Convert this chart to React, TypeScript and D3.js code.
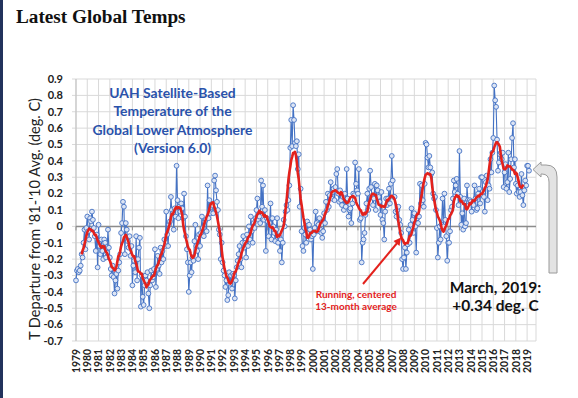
import React from 'react';
import * as d3 from 'd3';

// UAH v6.0 global lower troposphere, monthly anomaly (deg C vs 1981-2010)
const temps1979to1988 = [
  -0.33, -0.27, -0.26, -0.28, -0.27, -0.24, -0.17, -0.19, -0.10, -0.02, -0.14, -0.01,
  0.06, -0.03, -0.08, 0.05, 0.03, 0.09, 0.04, -0.01, -0.06, -0.15, -0.05, -0.25,
  0.01, -0.12, -0.17, -0.08, -0.15, -0.20, -0.08, -0.10, -0.19, -0.16, -0.02, -0.13,
  -0.19, -0.26, -0.30, -0.24, -0.31, -0.41, -0.33, -0.29, -0.38, -0.27, -0.22, -0.17,
  -0.04, 0.02, 0.15, 0.12, -0.17, 0.02, -0.02, -0.09, -0.13, -0.06, -0.18, -0.12,
  -0.36, -0.24, -0.21, -0.28, -0.06, -0.33, -0.20, -0.13, -0.07, -0.49, -0.30, -0.43,
  -0.48, -0.36, -0.30, -0.33, -0.28, -0.41, -0.50, -0.36, -0.27, -0.33, -0.31, -0.26,
  -0.14, -0.37, -0.26, -0.18, -0.24, -0.29, -0.13, -0.22, -0.15, -0.20, -0.08, -0.12,
  0.09, -0.05, -0.12, 0.01, 0.03, 0.18, 0.10, 0.08, -0.02, 0.11, 0.06, 0.37,
  0.16, 0.05, 0.12, 0.09, 0.14, 0.11, 0.05, 0.20, 0.06, -0.06, -0.14, -0.22,
];
const temps1989to1998 = [
  -0.40, -0.30, -0.22, -0.28, -0.19, -0.21, -0.09, 0.01, -0.12, -0.15, -0.20, -0.05,
  -0.12, -0.04, 0.06, -0.01, -0.06, 0.03, 0.04, -0.03, 0.25, 0.05, 0.16, 0.08,
  0.12, 0.13, 0.08, 0.28, 0.31, 0.22, 0.15, 0.10, -0.02, -0.05, -0.20, -0.10,
  -0.22, -0.27, -0.30, -0.37, -0.33, -0.45, -0.42, -0.28, -0.35, -0.30, -0.38, -0.29,
  -0.30, -0.44, -0.33, -0.25, -0.21, -0.17, -0.12, -0.20, -0.25, -0.10, -0.06, -0.13,
  -0.10, -0.19, -0.05, -0.12, 0.00, -0.08, 0.06, -0.03, -0.10, 0.02, -0.01, 0.05,
  0.10, 0.17, 0.04, 0.06, 0.02, 0.28, 0.12, 0.25, 0.04, 0.10, -0.15, 0.05,
  0.03, -0.06, 0.02, 0.14, -0.08, 0.05, 0.00, -0.04, -0.09, -0.02, 0.05, -0.10,
  -0.06, -0.15, -0.08, -0.22, -0.10, 0.04, 0.00, 0.09, 0.13, 0.10, 0.16, 0.25,
  0.48, 0.65, 0.49, 0.74, 0.65, 0.51, 0.49, 0.52, 0.35, 0.44, 0.12, 0.23,
];
const temps1999to2008 = [
  -0.03, -0.12, -0.15, -0.01, -0.05, -0.10, 0.03, -0.04, 0.01, -0.02, -0.08, -0.06,
  -0.26, -0.05, -0.01, 0.09, 0.02, -0.03, 0.01, 0.05, -0.02, -0.04, -0.07, -0.03,
  0.08, 0.02, 0.15, 0.10, 0.20, 0.12, 0.19, 0.27, 0.17, 0.21, 0.23, 0.16,
  0.24, 0.32, 0.35, 0.20, 0.15, 0.22, 0.16, 0.13, 0.18, 0.10, 0.20, 0.12,
  0.35, 0.17, 0.06, 0.10, 0.11, 0.02, 0.14, 0.20, 0.19, 0.39, 0.26, 0.22,
  0.20, 0.35, 0.04, 0.05, -0.22, -0.10, -0.08, -0.04, 0.07, 0.14, 0.20, 0.10,
  0.23, 0.34, 0.24, 0.18, 0.13, 0.17, 0.26, 0.10, 0.25, 0.22, 0.18, 0.15,
  0.07, 0.21, 0.04, 0.02, -0.08, 0.09, 0.17, 0.13, 0.17, 0.23, 0.14, 0.26,
  0.43, 0.28, 0.18, 0.18, 0.09, 0.06, 0.10, 0.12, 0.04, 0.01, -0.04, -0.20,
  -0.26, -0.19, -0.13, -0.26, -0.16, -0.11, -0.02, -0.10, 0.01, 0.11, 0.04, -0.04,
];
const temps2009to2019 = [
  0.08, 0.00, -0.16, 0.05, 0.02, 0.06, 0.26, 0.14, 0.25, 0.16, 0.12, 0.26,
  0.51, 0.50, 0.42, 0.36, 0.43, 0.36, 0.32, 0.33, 0.20, 0.17, 0.18, 0.10,
  -0.01, -0.19, -0.10, 0.00, -0.08, 0.01, 0.17, 0.00, 0.20, 0.04, -0.06, -0.21,
  -0.10, -0.10, -0.03, 0.10, 0.12, 0.17, 0.28, 0.21, 0.25, 0.29, 0.20, 0.13,
  0.46, 0.18, 0.01, 0.08, -0.02, 0.17, 0.00, 0.02, 0.25, 0.16, 0.15, 0.16,
  0.15, 0.09, 0.14, 0.13, 0.25, 0.17, 0.10, 0.11, 0.20, 0.23, 0.14, 0.30,
  0.30, 0.19, 0.18, 0.09, 0.27, 0.31, 0.16, 0.25, 0.23, 0.41, 0.33, 0.45,
  0.54, 0.86, 0.77, 0.73, 0.53, 0.34, 0.39, 0.44, 0.45, 0.41, 0.45, 0.24,
  0.33, 0.38, 0.23, 0.27, 0.45, 0.21, 0.29, 0.41, 0.54, 0.63, 0.36, 0.41,
  0.26, 0.20, 0.25, 0.21, 0.18, 0.21, 0.32, 0.19, 0.13, 0.22, 0.28, 0.25,
  0.37, 0.37, 0.34,
];

const yearLabels = d3.range(1979, 2020).map(String);
const yTicks = [0.9, 0.8, 0.7, 0.6, 0.5, 0.4, 0.3, 0.2, 0.1, 0, -0.1, -0.2, -0.3, -0.4, -0.5, -0.6, -0.7];
const chartTitle = ['UAH Satellite-Based', 'Temperature of the', 'Global Lower Atmosphere', '(Version 6.0)'];
const latestNote = ['March, 2019:', '+0.34 deg. C'];
const avgNote = ['Running, centered', '13-month average'];

const monthly = [...temps1979to1988, ...temps1989to1998, ...temps1999to2008, ...temps2009to2019];

// centered 13-month running mean, as in the original chart
const running = monthly.map((v, i) =>
  i < 6 || i > monthly.length - 7 ? null : d3.mean(monthly.slice(i - 6, i + 7))
);

const BLUE = '#4472c4';
const RED = '#e3211c';
const GRID = '#d9d9d9';

const App = () => {
  const left = 76;
  const right = 536;
  const top = 79;
  const bottom = 341;

  const x = d3.scaleLinear().domain([0, monthly.length - 1]).range([left, 529]);
  const y = d3.scaleLinear().domain([-0.7, 0.9]).range([bottom, top]);

  const line = d3
    .line<number>()
    .x((d, i) => x(i))
    .y((d) => y(d));

  const avgLine = d3
    .line<number | null | undefined>()
    .defined((d) => d != null)
    .x((d, i) => x(i))
    .y((d) => y(d as number));

  const yearX = (i: number) => x(i * 12);

  return (
    <svg
      width={578}
      height={398}
      style={{ position: 'absolute', left: 0, top: 0, background: '#fff' }}
      fontFamily="Lato, 'Open Sans', sans-serif"
    >
      <rect x={0} y={0} width={3} height={398} fill="#22325c" />
      <text x={16} y={23} fontFamily="'Liberation Serif', serif" fontWeight="bold" fontSize={19.2} fill="#111">
        Latest Global Temps
      </text>

      {/* grid */}
      {yTicks.map((t) => (
        <line key={'h' + t} x1={left - 4} x2={right} y1={y(t)} y2={y(t)} stroke={GRID} strokeWidth={1} />
      ))}
      {yearLabels.map((lab, i) => (
        <line key={'v' + lab} x1={yearX(i)} x2={yearX(i)} y1={top} y2={bottom} stroke={GRID} strokeWidth={1} />
      ))}
      <line x1={right} x2={right} y1={top} y2={bottom} stroke={GRID} strokeWidth={1} />
      <line x1={left} x2={left} y1={top} y2={bottom} stroke="#bfbfbf" strokeWidth={1} />

      {/* zero axis with year ticks */}
      <line x1={left} x2={right} y1={y(0)} y2={y(0)} stroke="#8c8c8c" strokeWidth={1.5} />
      {yearLabels.map((lab, i) => (
        <line key={'t' + lab} x1={yearX(i)} x2={yearX(i)} y1={y(0)} y2={y(0) + 4} stroke="#8c8c8c" strokeWidth={1} />
      ))}

      {/* y tick labels */}
      {yTicks.map((t) => (
        <text key={'yl' + t} x={63} y={y(t)} dy="0.35em" textAnchor="end" fontSize={11} fontWeight="bold" fill="#222">
          {t === 0 ? '0' : t.toFixed(1)}
        </text>
      ))}

      {/* year labels */}
      {yearLabels.map((lab, i) => (
        <text
          key={'xl' + lab}
          transform={`translate(${yearX(i) + 3.8},349) rotate(-90)`}
          textAnchor="end"
          fontSize={10.4}
          fontWeight="bold"
          fill="#222"
        >
          {lab}
        </text>
      ))}

      <text
        transform="translate(40,219) rotate(-90)"
        textAnchor="middle"
        fontSize={14.5}
        fill="#222"
        textLength={242}
        lengthAdjust="spacingAndGlyphs"
      >
        T Departure from '81-'10 Avg. (deg. C)
      </text>

      {/* monthly series */}
      <path d={line(monthly) ?? ''} fill="none" stroke={BLUE} strokeWidth={1.1} />
      {monthly.map((v, i) => (
        <circle key={'p' + i} cx={x(i)} cy={y(v)} r={2.4} fill="#dde5f4" stroke={BLUE} strokeWidth={0.9} />
      ))}

      {/* running mean */}
      <path d={avgLine(running) ?? ''} fill="none" stroke={RED} strokeWidth={2.6} strokeLinejoin="round" />

      {/* chart title */}
      {chartTitle.map((s, i) => (
        <text key={s} x={172.5} y={98 + i * 18.3} textAnchor="middle" fontSize={13.9} fontWeight="bold" fill="#2a52ab">
          {s}
        </text>
      ))}

      {/* running mean note */}
      <line x1={363} y1={284} x2={398} y2={242} stroke={RED} strokeWidth={2} />
      <path d="M401,237.5 L393.5,241 L399.5,246 Z" fill={RED} />
      {avgNote.map((s, i) => (
        <text key={s} x={356} y={297.7 + i * 12.4} textAnchor="middle" fontSize={10} fontWeight="bold" fill={RED}>
          {s}
        </text>
      ))}

      {/* latest value callout */}
      <path
        d="M549,273 L549,182 Q549,174 542,174 L541,174 L541,177 L533,169.5 L541,162 L541,165 L546,165 Q557,165 557,177 L557,273 Z"
        fill="#e3e3e3"
        stroke="#9a9a9a"
        strokeWidth={1}
      />
      {latestNote.map((s, i) => (
        <text key={s} x={495.5} y={292.7 + i * 18} textAnchor="middle" fontSize={15.5} fontWeight="bold" fill="#111">
          {s}
        </text>
      ))}
    </svg>
  );
};

export default App;
